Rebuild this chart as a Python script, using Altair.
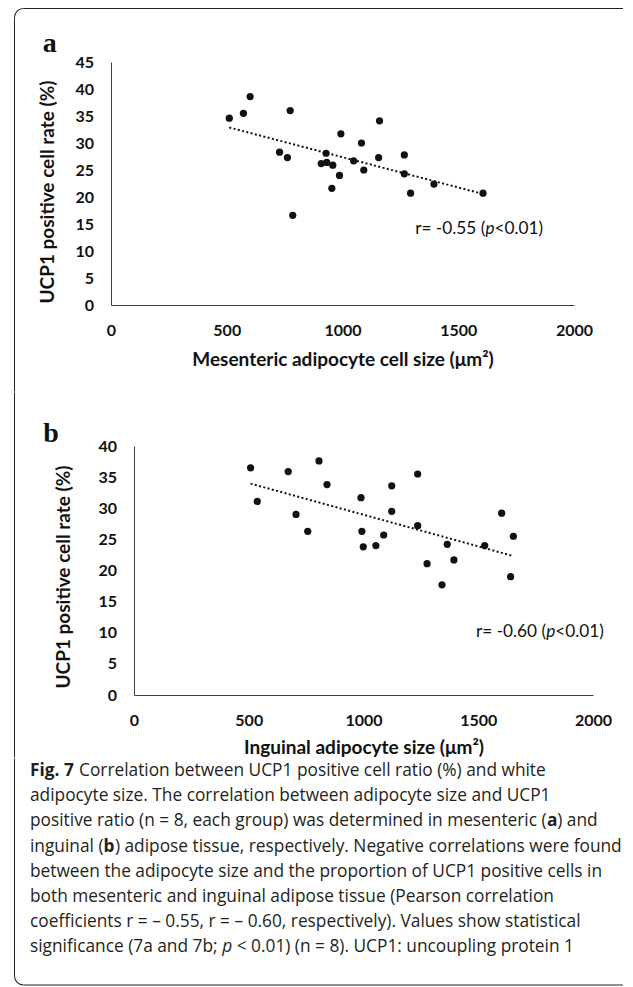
import os, glob, struct, subprocess, math
import pandas as pd
import altair as alt

# ---------------- data ----------------
mes_size = [511, 572, 601, 774, 728, 762, 785, 929, 908, 932, 958, 987,
            954, 993, 1048, 1082, 1092, 1160, 1156, 1267, 1267, 1294, 1395, 1607]
mes_rate = [34.6, 35.5, 38.6, 36.0, 28.3, 27.3, 16.6, 28.1, 26.2, 26.4, 25.9, 24.0,
            21.6, 31.7, 26.7, 30.0, 25.0, 34.1, 27.3, 27.8, 24.3, 20.7, 22.4, 20.7]
ing_size = [508, 537, 672, 706, 757, 806, 841, 989, 993, 999, 1054, 1088,
            1123, 1123, 1236, 1236, 1277, 1342, 1365, 1394, 1528, 1602, 1653, 1641]
ing_rate = [36.5, 31.1, 35.9, 29.0, 26.3, 37.6, 33.8, 31.7, 26.3, 23.8, 24.0, 25.7,
            33.6, 29.5, 35.5, 27.2, 21.1, 17.7, 24.2, 21.7, 24.0, 29.2, 25.5, 19.0]
x_ticks = [0, 500, 1000, 1500, 2000]
mes_y_ticks = [0, 5, 10, 15, 20, 25, 30, 35, 40, 45]
ing_y_ticks = [0, 5, 10, 15, 20, 25, 30, 35, 40]
mes_note = ["r= -0.55 (", "p", "<0.01)"]
ing_note = ["r= -0.60 (", "p", "<0.01)"]
mes_note_at = [1314, 14.1]
ing_note_at = [1490, 10.2]
y_title = "UCP1 positive cell rate (%)"
mes_x_title = "Mesenteric adipocyte cell size (μm²)"
ing_x_title = "Inguinal adipocyte size (μm²)"
caption_lines = [
    [("Fig. 7", "b"), (" Correlation between UCP1 positive cell ratio (%) and white", "r")],
    [("adipocyte size. The correlation between adipocyte size and UCP1", "r")],
    [("positive ratio (n = 8, each group) was determined in mesenteric (", "r"), ("a", "b"), (") and", "r")],
    [("inguinal (", "r"), ("b", "b"), (") adipose tissue, respectively. Negative correlations were found", "r")],
    [("between the adipocyte size and the proportion of UCP1 positive cells in", "r")],
    [("both mesenteric and inguinal adipose tissue (Pearson correlation", "r")],
    [("coefficients r = – 0.55, r = – 0.60, respectively). Values show statistical", "r")],
    [("significance (7a and 7b; ", "r"), ("p", "i"), (" < 0.01) (n = 8). UCP1: uncoupling protein 1", "r")],
]

# ---------------- font metrics (for placing mixed-style text) ----------------
def find_font(family, style):
    key = family.replace(" ", "").lower()
    try:
        r = subprocess.run(["fc-match", "-f", "%{file}", f"{family}:style={style}"],
                           capture_output=True, text=True, timeout=10)
        p = r.stdout.strip()
        if p and os.path.exists(p) and key in os.path.basename(p).replace("-", "").replace(" ", "").lower():
            return p
    except Exception:
        pass
    fk = family.replace(" ", "")
    for root in ["/usr/share/fonts", "/usr/local/share/fonts", os.path.expanduser("~/.fonts"),
                 os.path.expanduser("~/.local/share/fonts")]:
        hits = glob.glob(os.path.join(root, "**", f"{fk}-{style.replace(' ', '')}.ttf"), recursive=True)
        if hits:
            return hits[0]
    return None


class Metrics:
    def __init__(self, path, factor=1.0):
        self.ok = False
        self.factor = factor
        if not path:
            return
        try:
            with open(path, "rb") as f:
                d = f.read()
            base = struct.unpack(">I", d[12:16])[0] if d[:4] == b"ttcf" else 0
            n = struct.unpack(">H", d[base + 4:base + 6])[0]
            t = {}
            for i in range(n):
                tag, _, off, ln = struct.unpack(">4sIII", d[base + 12 + 16 * i: base + 28 + 16 * i])
                t[tag] = off
            head = t[b"head"]
            self.upem = struct.unpack(">H", d[head + 18:head + 20])[0]
            hhea = t[b"hhea"]
            nhm = struct.unpack(">H", d[hhea + 34:hhea + 36])[0]
            hm = t[b"hmtx"]
            self.adv = struct.unpack(">" + "Hh" * nhm, d[hm:hm + 4 * nhm])[0::2]
            cm = t[b"cmap"]
            nt = struct.unpack(">H", d[cm + 2:cm + 4])[0]
            sub = None
            for i in range(nt):
                pid, eid, off = struct.unpack(">HHI", d[cm + 4 + 8 * i: cm + 12 + 8 * i])
                fmt = struct.unpack(">H", d[cm + off: cm + off + 2])[0]
                if fmt == 4 and ((pid == 3 and eid == 1) or pid == 0):
                    sub = cm + off
                    break
            segx2 = struct.unpack(">H", d[sub + 6:sub + 8])[0]
            seg = segx2 // 2
            p = sub + 14
            self.ends = struct.unpack(">%dH" % seg, d[p:p + segx2]); p += segx2 + 2
            self.starts = struct.unpack(">%dH" % seg, d[p:p + segx2]); p += segx2
            self.deltas = struct.unpack(">%dh" % seg, d[p:p + segx2]); p += segx2
            self.roff_pos = p
            self.roffs = struct.unpack(">%dH" % seg, d[p:p + segx2])
            self.d = d
            self.ok = True
        except Exception:
            self.ok = False

    def gid(self, c):
        for i, e in enumerate(self.ends):
            if c <= e:
                if c < self.starts[i]:
                    return 0
                if self.roffs[i] == 0:
                    return (c + self.deltas[i]) & 0xFFFF
                a = self.roff_pos + 2 * i + self.roffs[i] + 2 * (c - self.starts[i])
                g = struct.unpack(">H", self.d[a:a + 2])[0]
                return (g + self.deltas[i]) & 0xFFFF if g else 0
        return 0

    def width(self, s, size):
        if not self.ok:
            return 0.52 * size * len(s) * self.factor
        tot = 0
        for ch in s:
            g = self.gid(ord(ch))
            if g == 0:
                tot += 0.5 * self.upem
                continue
            tot += self.adv[min(g, len(self.adv) - 1)]
        return tot / self.upem * size * self.factor


def metrics_for(family, style):
    p = find_font(family, style)
    reg = find_font(family, "Regular")
    factor = 1.0
    if style == "Bold" and (p is None or p == reg):
        factor = 1.07   # variable / missing bold file: widen a little
        p = p or reg
    if style == "Italic" and p is None:
        p = reg
    return Metrics(p, factor)


CHART_FONT = "Lato"
CAP_FONT = "Open Sans"
m_chart_b = metrics_for(CHART_FONT, "Bold")
m_chart_r = metrics_for(CHART_FONT, "Regular")
m_chart_i = metrics_for(CHART_FONT, "Italic")
cap_m = {"r": metrics_for(CAP_FONT, "Regular"),
         "b": metrics_for(CAP_FONT, "Bold"),
         "i": metrics_for(CAP_FONT, "Italic")}

def clamp(v, lo, hi):
    return max(lo, min(hi, v))

TITLE_SIZE = clamp(232 / m_chart_b.width(y_title, 1), 12, 19)
NOTE_SIZE = clamp(128 / (m_chart_r.width(mes_note[0] + mes_note[2], 1) + m_chart_i.width("p", 1)), 12, 18)
CAP_SIZE = clamp(592 / sum(cap_m[s].width(t, 1) for t, s in caption_lines[3]), 13, 19)

INK = "#111111"
AXIS_GRAY = "#404040"
FRAME = "#222222"

one = pd.DataFrame({"k": [0]})

def frame_parts(L, top, bottom, right, corner=None, r=9):
    parts = []
    if corner == "top":
        parts.append(alt.Chart(one).mark_rule(color=FRAME, strokeWidth=1).encode(
            x=alt.value(L), y=alt.value(top + r), y2=alt.value(bottom)))
        parts.append(alt.Chart(one).mark_rule(color=FRAME, strokeWidth=1).encode(
            x=alt.value(L + r), x2=alt.value(right), y=alt.value(top)))
        parts.append(alt.Chart(one).mark_arc(color=FRAME, radius=r + 0.5, radius2=r - 0.5,
                                             theta=1.5 * math.pi, theta2=2 * math.pi).encode(
            x=alt.value(L + r), y=alt.value(top + r)))
    elif corner == "bottom":
        parts.append(alt.Chart(one).mark_rule(color=FRAME, strokeWidth=1).encode(
            x=alt.value(L), y=alt.value(top), y2=alt.value(bottom - r)))
        parts.append(alt.Chart(one).mark_rule(color=FRAME, strokeWidth=1).encode(
            x=alt.value(L + r), x2=alt.value(right), y=alt.value(bottom)))
        parts.append(alt.Chart(one).mark_arc(color=FRAME, radius=r + 0.5, radius2=r - 0.5,
                                             theta=math.pi, theta2=1.5 * math.pi).encode(
            x=alt.value(L + r), y=alt.value(bottom - r)))
    else:
        parts.append(alt.Chart(one).mark_rule(color=FRAME, strokeWidth=1).encode(
            x=alt.value(L), y=alt.value(top), y2=alt.value(bottom)))
    return parts


# page geometry (all rows share the same origin x = OX)
OX = 111
FRAME_L, FRAME_T, FRAME_B, FRAME_R = 14.5, 8.5, 985, 623
Y1, Y2 = 392, 758


def panel(sizes, rates, yticks, ymax, x_title, letter, note, note_at,
          plot_w, H, xoff, oy, letter_xy, ytitle_xy, xlab_pad, xtitle_y, corner, top_rel, bottom_rel):
    df = pd.DataFrame({"size": sizes, "rate": rates})
    common = dict(labelFont=CHART_FONT, labelFontWeight="bold", labelFontSize=16, labelColor=INK,
                  titleFont=CHART_FONT, titleFontWeight="bold", titleFontSize=TITLE_SIZE, titleColor=INK,
                  ticks=False, tickSize=0, grid=False, domainColor=AXIS_GRAY, domainWidth=1,
                  labelFlush=False, format="d")
    x = alt.X("size:Q", scale=alt.Scale(domain=[0, 2000], nice=False, zero=False,
                                         range=[xoff, xoff + plot_w]),
              axis=alt.Axis(values=x_ticks, title=x_title, labelPadding=xlab_pad, labelBaseline="middle",
                            titleY=xtitle_y, titleBaseline="middle", **common))
    y = alt.Y("rate:Q", scale=alt.Scale(domain=[0, ymax], nice=False, zero=False),
              axis=alt.Axis(values=yticks, title=None, labelPadding=17.5, offset=-xoff, **common))
    pts = alt.Chart(df).mark_circle(size=52, color=INK, opacity=1).encode(x=x, y=y)
    trend = alt.Chart(df).transform_regression("size", "rate").mark_line(
        color=INK, strokeWidth=2, strokeDash=[2, 2.4]).encode(x=x, y=y)
    ndf = pd.DataFrame({"size": [note_at[0]], "rate": [note_at[1]]})
    w0 = m_chart_r.width(note[0], NOTE_SIZE)
    w1 = m_chart_i.width(note[1], NOTE_SIZE)
    n1 = alt.Chart(ndf).mark_text(text=note[0], align="left", baseline="middle", font=CHART_FONT,
                                  fontSize=NOTE_SIZE, color=INK).encode(x=x, y=y)
    n2 = alt.Chart(ndf).mark_text(text=note[1], align="left", baseline="middle", font=CHART_FONT,
                                  fontStyle="italic", fontSize=NOTE_SIZE, color=INK, dx=w0).encode(x=x, y=y)
    n3 = alt.Chart(ndf).mark_text(text=note[2], align="left", baseline="middle", font=CHART_FONT,
                                  fontSize=NOTE_SIZE, color=INK, dx=w0 + w1).encode(x=x, y=y)
    lab = alt.Chart(one).mark_text(text=letter, align="left", baseline="alphabetic",
                                   font="Liberation Serif", fontWeight="bold", fontSize=28,
                                   color=INK).encode(x=alt.value(letter_xy[0]), y=alt.value(letter_xy[1]))
    ytl = alt.Chart(one).mark_text(text=y_title, angle=270, align="center", baseline="middle",
                                   font=CHART_FONT, fontWeight="bold", fontSize=TITLE_SIZE,
                                   color=INK).encode(x=alt.value(ytitle_xy[0]), y=alt.value(ytitle_xy[1]))
    fr = frame_parts(FRAME_L - OX, top_rel, bottom_rel, FRAME_R - OX, corner=corner)
    return alt.layer(*fr, trend, pts, n1, n2, n3, lab, ytl).properties(width=xoff + plot_w, height=H)


# panel a: plot origin (111, 62); panel b: plot origin (134, 446) -> shifted 23 px inside the row
pa = panel(mes_size, mes_rate, mes_y_ticks, 45, mes_x_title, "a", mes_note, mes_note_at,
           463, 243, 0, 62, (42.7 - OX, -10.3), (48 - OX, 130), 25.5, 54, "top",
           FRAME_T - 62, Y1 - 62 - 0.5)
pb = panel(ing_size, ing_rate, ing_y_ticks, 40, ing_x_title, "b", ing_note, ing_note_at,
           459, 249, 23, 446, (43.3 - OX, -4.3), (63.5 - OX, 131), 25, 52, None,
           Y1 - 446 + 0.5, Y2 - 446 - 0.5)

# caption
CX = 30 - OX
LINE_H = 25.2
FIRST = 771 - Y2
rows = []
for i, line in enumerate(caption_lines):
    cur = CX
    for txt, st in line:
        lead = len(txt) - len(txt.lstrip(" "))
        px = cur + cap_m["r"].width(" " * lead, CAP_SIZE)
        rows.append({"txt": txt.strip(" "), "px": px, "py": FIRST + i * LINE_H, "st": st})
        cur += cap_m[st].width(txt, CAP_SIZE)
cap_df = pd.DataFrame(rows)

cap_layers = []
for st, weight, style in [("r", "normal", "normal"), ("b", "bold", "normal"), ("i", "normal", "italic")]:
    sub = cap_df[cap_df["st"] == st]
    if len(sub) == 0:
        continue
    cap_layers.append(alt.Chart(sub).mark_text(
        align="left", baseline="middle", font=CAP_FONT, fontSize=CAP_SIZE, fontWeight=weight,
        fontStyle=style, color="#231f20").encode(
        x=alt.X("px:Q", scale=None, axis=None), y=alt.Y("py:Q", scale=None, axis=None),
        text="txt:N"))
cap_fr = frame_parts(FRAME_L - OX, 0.5, FRAME_B - Y2, FRAME_R - OX, corner="bottom")
pc = alt.layer(*cap_fr, *cap_layers).properties(width=460, height=232)

chart = alt.concat(pa, pb, pc, columns=1, spacing=0).properties(
    padding={"left": 6, "top": 0, "right": 0, "bottom": 0},
    background="white",
).configure_view(stroke=None)

chart.save("out.html", embed_options={"renderer": "svg", "actions": False})
